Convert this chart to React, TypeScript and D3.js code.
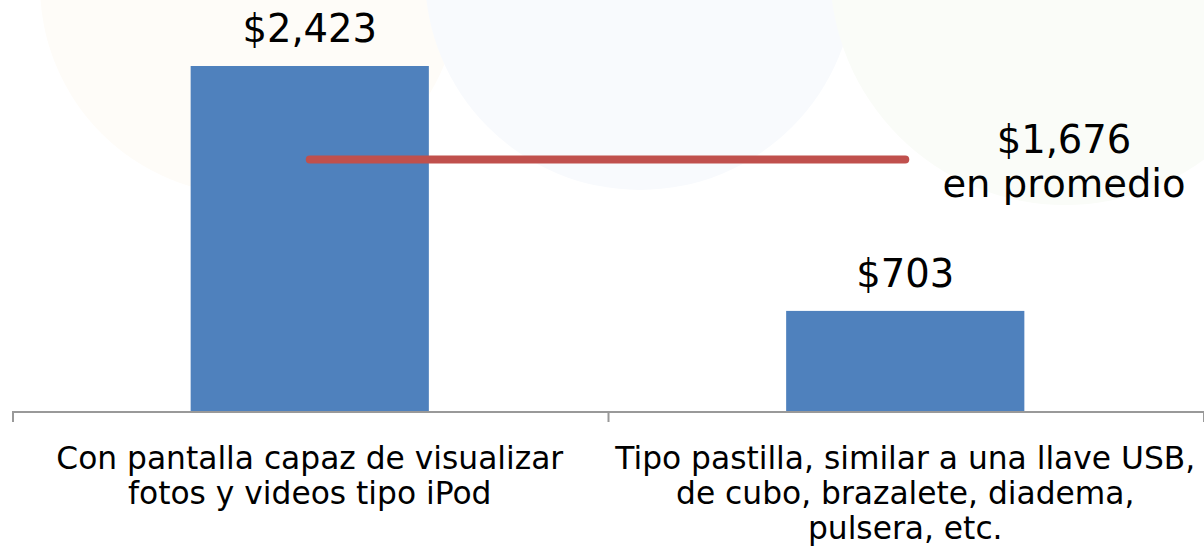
import React from "react";
import * as d3 from "d3";

const categories: string[][] = [
  ["Con pantalla capaz de visualizar", "fotos y videos tipo iPod"],
  ["Tipo pastilla, similar a una llave USB,", "de cubo, brazalete, diadema,", "pulsera, etc."],
];
const values: number[] = [2423, 703];
const valueLabels: string[] = ["$2,423", "$703"];
const averageValue = 1676;
const averageLabel: string[] = ["$1,676", "en promedio"];

const W = 1204;
const H = 547;
const FONT = "'DejaVu Sans', Verdana, sans-serif";

export default function App() {
  const x = d3.scaleBand<number>().domain(d3.range(values.length)).range([12, 1203]).padding(0);
  const y = d3.scaleLinear().domain([0, 2423]).range([411, 66]);
  // the average line sits on its own (secondary) axis in the original chart
  const y2 = d3.scaleLinear().domain([0, 2300]).range([411, 66]);
  const bw = x.bandwidth() * 0.4;
  const cx = (i: number) => (x(i) as number) + x.bandwidth() / 2;
  const avgY = y2(averageValue);

  return (
    <svg width={W} height={H} style={{ position: "absolute", left: 0, top: 0, background: "#fff" }}>
      {/* faint watermark */}
      <circle cx={250} cy={-15} r={210} fill="#fefcf8" />
      <circle cx={640} cy={-25} r={215} fill="#f8fafd" />
      <circle cx={1065} cy={-30} r={235} fill="#fafcf8" />

      {values.map((v, i) => (
        <rect key={i} x={cx(i) - bw / 2} y={y(v)} width={bw} height={y(0) - y(v)} fill="#4F81BD" />
      ))}

      {/* axis */}
      <line x1={12} x2={W} y1={y(0) + 1} y2={y(0) + 1} stroke="#999" strokeWidth={2} />
      {d3.range(values.length + 1).map((i) => {
        const tx = i < values.length ? (x(i) as number) : 1203;
        return <line key={i} x1={tx + 1} x2={tx + 1} y1={y(0)} y2={y(0) + 11} stroke="#999" strokeWidth={2} />;
      })}

      {/* average line */}
      <line x1={cx(0)} x2={cx(1)} y1={avgY} y2={avgY} stroke="#C0504D" strokeWidth={8} strokeLinecap="round" />

      {values.map((v, i) => (
        <text key={i} x={cx(i)} y={y(v) - 24} textAnchor="middle" fontFamily={FONT} fontSize={38.5} fill="#000">
          {valueLabels[i]}
        </text>
      ))}

      {averageLabel.map((t, j) => (
        <text key={j} x={1064} y={153 + j * 44} textAnchor="middle" fontFamily={FONT} fontSize={38.5} fill="#000">
          {t}
        </text>
      ))}

      {categories.map((lines, i) =>
        lines.map((t, j) => (
          <text key={i + "-" + j} x={cx(i)} y={469 + j * 35} textAnchor="middle" fontFamily={FONT} fontSize={31.3} fill="#000">
            {t}
          </text>
        ))
      )}
    </svg>
  );
}
